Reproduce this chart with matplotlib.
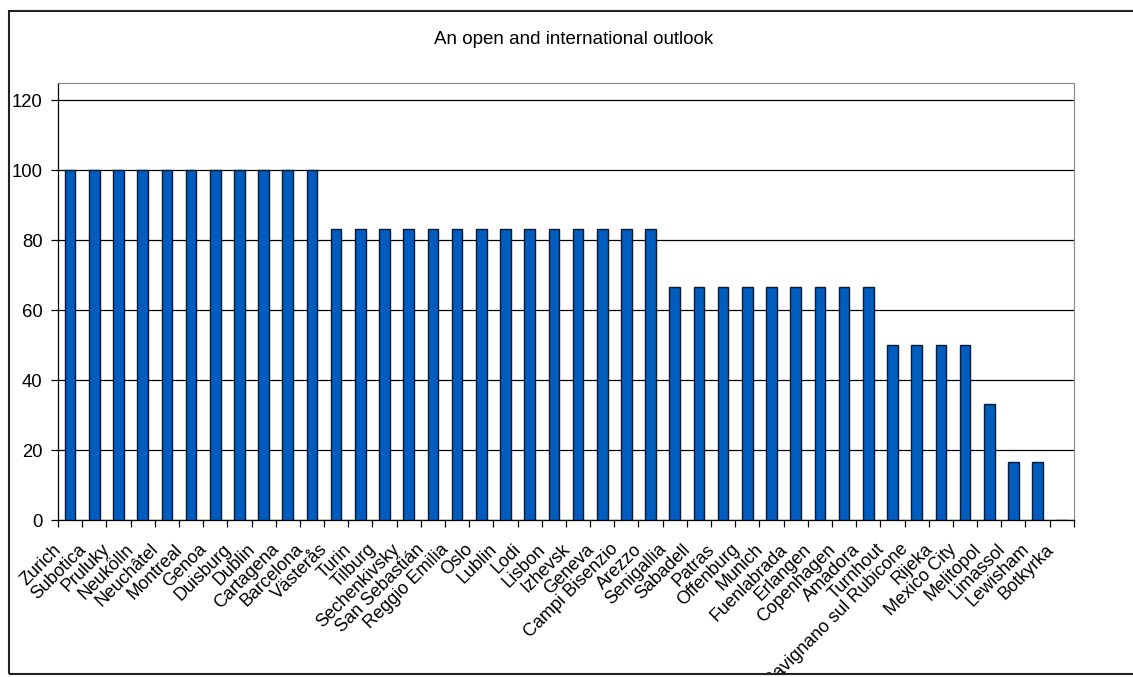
import matplotlib.pyplot as plt
import matplotlib.transforms as mtransforms
from matplotlib.patches import Rectangle
import numpy as np

plt.rcParams['font.family'] = ['Liberation Sans', 'DejaVu Sans']

cities = [
    "Zurich", "Subotica", "Pruluky", "Neukölln", "Neuchâtel", "Montreal",
    "Genoa", "Duisburg", "Dublin", "Cartagena", "Barcelona", "Västerås",
    "Turin", "Tilburg", "Sechenkivsky", "San Sebastián", "Reggio Emilia",
    "Oslo", "Lublin", "Lodi", "Lisbon", "Izhevsk", "Geneva",
    "Campi Bisenzio", "Arezzo", "Senigallia", "Sabadell", "Patras",
    "Offenburg", "Munich", "Fuenlabrada", "Erlangen", "Copenhagen",
    "Amadora", "Turnhout", "Savignano sul Rubicone", "Rijeka",
    "Mexico City", "Melitopol", "Limassol", "Lewisham", "Botkyrka",
]
scores = [
    100, 100, 100, 100, 100, 100, 100, 100, 100, 100, 100,
    83.3, 83.3, 83.3, 83.3, 83.3, 83.3, 83.3, 83.3, 83.3, 83.3, 83.3,
    83.3, 83.3, 83.3,
    66.7, 66.7, 66.7, 66.7, 66.7, 66.7, 66.7, 66.7, 66.7,
    50, 50, 50, 50,
    33.3, 16.7, 16.7, 0,
]
title = "An open and international outlook"

fig = plt.figure(figsize=(11.33, 6.77), dpi=100)
ax = fig.add_axes([0.0512, 0.2319, 0.8966, 0.6459])

x = np.arange(len(cities))
ax.bar(x, scores, width=0.44, color='#005cbf', edgecolor='#0a1a33',
       linewidth=1.0, zorder=3)

ax.set_xlim(-0.5, len(cities) - 0.5)
ax.set_ylim(0, 125)
ax.set_yticks(np.arange(0, 121, 20))
ax.yaxis.grid(True, color='black', linewidth=0.9, zorder=0)
ax.tick_params(axis='y', direction='out', length=5, width=0.9,
               labelsize=13.3, pad=6)

# boundaries carry the tick marks, centres carry the names
ax.set_xticks(np.arange(len(cities) + 1) - 0.5)
ax.set_xticklabels([])
ax.set_xticks(x, minor=True)
ax.set_xticklabels(cities, minor=True, rotation=45, ha='right', va='top',
                   fontsize=13)
ax.tick_params(axis='x', which='major', direction='out', length=5, width=0.9)
ax.tick_params(axis='x', which='minor', length=0, pad=15)

shift = mtransforms.ScaledTranslation(-5 / 100, 0, fig.dpi_scale_trans)
clip = mtransforms.TransformedBbox(
    mtransforms.Bbox([[9 / 1133, 3 / 677], [1.0, 666 / 677]]), fig.transFigure)
for lbl in ax.get_xticklabels(minor=True):
    lbl.set_transform(lbl.get_transform() + shift)
    lbl.set_clip_box(clip)
    lbl.set_clip_on(True)

for side in ('top', 'right'):
    ax.spines[side].set_color('#888888')
for side in ('left', 'bottom'):
    ax.spines[side].set_color('black')
    ax.spines[side].set_linewidth(0.9)

fig.text(0.506, 0.942, title, ha='center', va='center', fontsize=13.5)

fig.patches.append(Rectangle((9 / 1133, 3 / 677), 1.2, 663 / 677,
                             transform=fig.transFigure, fill=False,
                             edgecolor='#222222', linewidth=1.5))

fig.savefig('out.png', dpi=100)
